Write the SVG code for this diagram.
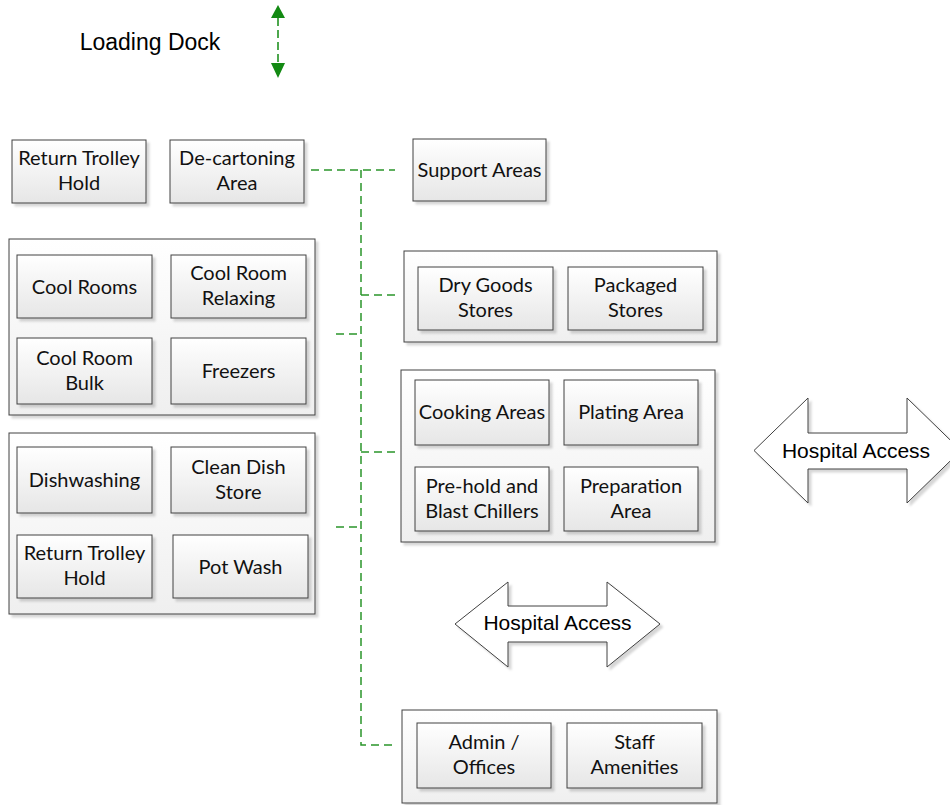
<svg xmlns="http://www.w3.org/2000/svg" width="950" height="805" viewBox="0 0 950 805">
  <defs>
    <linearGradient id="boxFill" x1="0" y1="0" x2="0" y2="1">
      <stop offset="0" stop-color="#ffffff"/>
      <stop offset="1" stop-color="#e6e6e6"/>
    </linearGradient>
    <linearGradient id="groupFill" x1="0" y1="0" x2="0" y2="1">
      <stop offset="0" stop-color="#ffffff"/>
      <stop offset="1" stop-color="#efefef"/>
    </linearGradient>
    <filter id="shadow" x="-5%" y="-5%" width="115%" height="120%">
      <feOffset in="SourceAlpha" dx="3" dy="3" result="off"/>
      <feGaussianBlur in="off" stdDeviation="0.8" result="blur"/>
      <feFlood flood-color="#000" flood-opacity="0.16"/>
      <feComposite in2="blur" operator="in" result="sh"/>
      <feMerge>
        <feMergeNode in="sh"/>
        <feMergeNode in="SourceGraphic"/>
      </feMerge>
    </filter>
    <style>
      .box { fill: url(#boxFill); stroke: #404040; stroke-width: 1; filter: url(#shadow); }
      .group { fill: url(#groupFill); stroke: #404040; stroke-width: 1; filter: url(#shadow); }
      .lbl { font-family: Lato, "Open Sans", sans-serif; font-size: 20px; fill: #111; text-anchor: middle; }
      .big { font-family: "Liberation Sans", Arial, sans-serif; fill: #000; text-anchor: middle; }
      .link { fill: none; stroke: #2a952a; stroke-width: 1.5; stroke-dasharray: 8 5; }
      .access { fill: #ffffff; stroke: #404040; stroke-width: 1; filter: url(#shadow); }
    </style>
  </defs>

  <!-- loading dock label and two-way arrow -->
  <g id="loading-dock">
    <text class="big" x="150" y="50" font-size="23">Loading Dock</text>
    <line x1="278" y1="18" x2="278" y2="63" stroke="#138a13" stroke-width="1.5" stroke-dasharray="8 4"/>
    <path d="M278,5 L271,18 L285,18 Z" fill="#138a13"/>
    <path d="M278,78 L271,63 L285,63 Z" fill="#138a13"/>
  </g>

  <!-- dashed connectors -->
  <g id="connectors">
    <path class="link" d="M311,170 H395"/>
    <path class="link" d="M361,170 V745 H395"/>
    <path class="link" d="M361,295 H397"/>
    <path class="link" d="M336,334 H361"/>
    <path class="link" d="M361,452 H396"/>
    <path class="link" d="M336,527 H361"/>
  </g>

  <!-- top row -->
  <g id="return-trolley-hold-1">
    <rect class="box" x="12" y="140" width="134" height="63"/>
    <text class="lbl" x="79" y="165">Return Trolley</text>
    <text class="lbl" x="79" y="190">Hold</text>
  </g>
  <g id="decartoning-area">
    <rect class="box" x="170" y="140" width="134" height="63"/>
    <text class="lbl" x="237" y="165">De-cartoning</text>
    <text class="lbl" x="237" y="190">Area</text>
  </g>
  <g id="support-areas">
    <rect class="box" x="413" y="139" width="133" height="62"/>
    <text class="lbl" x="479.5" y="176.5">Support Areas</text>
  </g>

  <!-- cold storage group -->
  <g id="cold-storage">
    <rect class="group" x="9" y="239" width="306" height="176"/>
    <g id="cool-rooms">
      <rect class="box" x="17" y="255" width="135" height="63"/>
      <text class="lbl" x="84.5" y="294">Cool Rooms</text>
    </g>
    <g id="cool-room-relaxing">
      <rect class="box" x="171" y="255" width="135" height="63"/>
      <text class="lbl" x="238.5" y="280">Cool Room</text>
      <text class="lbl" x="238.5" y="305">Relaxing</text>
    </g>
    <g id="cool-room-bulk">
      <rect class="box" x="17" y="338" width="135" height="66"/>
      <text class="lbl" x="84.5" y="364.5">Cool Room</text>
      <text class="lbl" x="84.5" y="389.5">Bulk</text>
    </g>
    <g id="freezers">
      <rect class="box" x="171" y="338" width="135" height="66"/>
      <text class="lbl" x="238.5" y="378">Freezers</text>
    </g>
  </g>

  <!-- wash group -->
  <g id="wash-area">
    <rect class="group" x="9" y="433" width="306" height="181"/>
    <g id="dishwashing">
      <rect class="box" x="17" y="447" width="135" height="66"/>
      <text class="lbl" x="84.5" y="487">Dishwashing</text>
    </g>
    <g id="clean-dish-store">
      <rect class="box" x="171" y="447" width="135" height="66"/>
      <text class="lbl" x="238.5" y="473.5">Clean Dish</text>
      <text class="lbl" x="238.5" y="498.5">Store</text>
    </g>
    <g id="return-trolley-hold-2">
      <rect class="box" x="17" y="535" width="135" height="63"/>
      <text class="lbl" x="84.5" y="560">Return Trolley</text>
      <text class="lbl" x="84.5" y="585">Hold</text>
    </g>
    <g id="pot-wash">
      <rect class="box" x="173" y="535" width="135" height="63"/>
      <text class="lbl" x="240.5" y="573.5">Pot Wash</text>
    </g>
  </g>

  <!-- stores group -->
  <g id="stores">
    <rect class="group" x="404" y="251" width="313" height="91"/>
    <g id="dry-goods-stores">
      <rect class="box" x="418" y="267" width="135" height="63"/>
      <text class="lbl" x="485.5" y="292">Dry Goods</text>
      <text class="lbl" x="485.5" y="317">Stores</text>
    </g>
    <g id="packaged-stores">
      <rect class="box" x="568" y="267" width="135" height="63"/>
      <text class="lbl" x="635.5" y="292">Packaged</text>
      <text class="lbl" x="635.5" y="317">Stores</text>
    </g>
  </g>

  <!-- production group -->
  <g id="production">
    <rect class="group" x="401" y="370" width="314" height="172"/>
    <g id="cooking-areas">
      <rect class="box" x="415" y="380" width="134" height="65"/>
      <text class="lbl" x="482" y="419">Cooking Areas</text>
    </g>
    <g id="plating-area">
      <rect class="box" x="564" y="380" width="134" height="65"/>
      <text class="lbl" x="631" y="419">Plating Area</text>
    </g>
    <g id="prehold-blast-chillers">
      <rect class="box" x="415" y="467" width="134" height="64"/>
      <text class="lbl" x="482" y="492.5">Pre-hold and</text>
      <text class="lbl" x="482" y="517.5">Blast Chillers</text>
    </g>
    <g id="preparation-area">
      <rect class="box" x="564" y="467" width="134" height="64"/>
      <text class="lbl" x="631" y="492.5">Preparation</text>
      <text class="lbl" x="631" y="517.5">Area</text>
    </g>
  </g>

  <!-- hospital access arrows -->
  <g id="hospital-access-east">
    <polygon class="access" points="754,450.5 808,398 808,433 907,433 907,398 961,450.5 907,503 907,469 808,469 808,503"/>
    <text class="big" x="856" y="458" font-size="21">Hospital Access</text>
  </g>
  <g id="hospital-access-south">
    <polygon class="access" points="455,624 508,582 508,606 607,606 607,582 660,624 607,667 607,642 508,642 508,667"/>
    <text class="big" x="557.5" y="630" font-size="21">Hospital Access</text>
  </g>

  <!-- admin group -->
  <g id="admin-staff">
    <rect class="group" x="402" y="710" width="315" height="93"/>
    <g id="admin-offices">
      <rect class="box" x="417" y="723" width="134" height="65"/>
      <text class="lbl" x="484" y="749">Admin /</text>
      <text class="lbl" x="484" y="774">Offices</text>
    </g>
    <g id="staff-amenities">
      <rect class="box" x="567" y="723" width="135" height="65"/>
      <text class="lbl" x="634.5" y="749">Staff</text>
      <text class="lbl" x="634.5" y="774">Amenities</text>
    </g>
  </g>
</svg>
